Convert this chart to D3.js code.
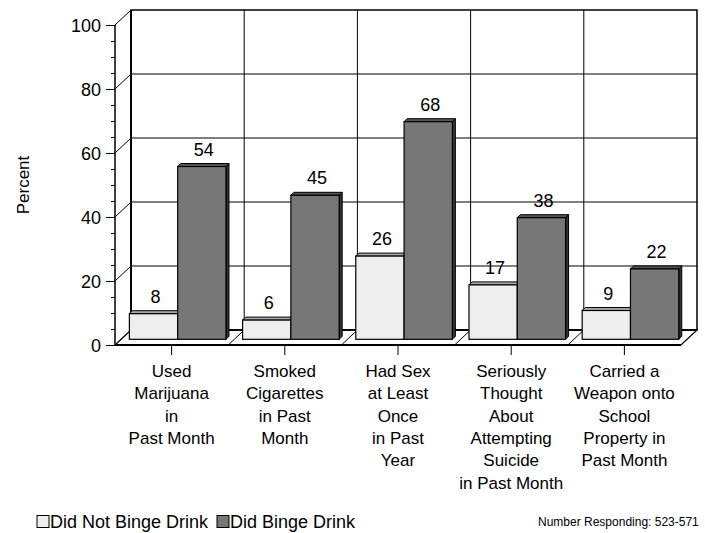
<!DOCTYPE html>
<html><head><meta charset="utf-8">
<script src="https://cdn.jsdelivr.net/npm/d3@7"></script>
<style>body{margin:0;background:#fff}svg{display:block;font-family:Arial,"Liberation Sans",sans-serif}</style>
</head><body><svg id="c" width="705" height="533"></svg>
<script>
const categories = [
  ["Used","Marijuana","in","Past Month"],
  ["Smoked","Cigarettes","in Past","Month"],
  ["Had Sex","at Least","Once","in Past","Year"],
  ["Seriously","Thought","About","Attempting","Suicide","in Past Month"],
  ["Carried a","Weapon onto","School","Property in","Past Month"]
];
const seriesNames = ["Did Not Binge Drink","Did Binge Drink"];
const notBinge = [8, 6, 26, 17, 9];
const binge = [54, 45, 68, 38, 22];
const yTicks = [0, 20, 40, 60, 80, 100];
const footnote = "Number Responding:  523-571";

const svg = d3.select("#c");
const ids = d3.range(categories.length);
const x = d3.scaleBand().domain(ids).range([115, 681]).padding(0);
const y = d3.scaleLinear().domain([0, 100]).range([345, 25]);
const DX = 16, DY = -15;            // wall depth
const BF = 0.38;                    // bar front depth fraction
const BDX = 3, BDY = -3;            // bar thickness
const xs = d3.scaleBand().domain([0, 1]).range([0, x.bandwidth()]).paddingInner(0).paddingOuter(0.172);
const fills = [{front:"#eeeeee", top:"#a8a8a8", side:"#8a8a8a"}, {front:"#777777", top:"#555555", side:"#333333"}];

const x0 = x.range()[0], x1 = x.range()[1];
const yB = v => y(v) + DY;

// back wall
svg.append("rect").attr("x", x0 + DX).attr("y", yB(100)).attr("width", x1 - x0).attr("height", y(0) - y(100))
  .attr("fill", "#fff").attr("stroke", "#000").attr("stroke-width", 1.5);
// back wall grid
svg.selectAll(".hg").data(yTicks.filter(v => v > 0 && v < 100)).enter().append("line")
  .attr("x1", x0 + DX).attr("x2", x1 + DX).attr("y1", d => yB(d)).attr("y2", d => yB(d))
  .attr("stroke", "#000").attr("stroke-width", 1);
svg.selectAll(".vg").data(ids.slice(1)).enter().append("line")
  .attr("x1", d => x(d) + DX).attr("x2", d => x(d) + DX).attr("y1", yB(100)).attr("y2", yB(0))
  .attr("stroke", "#000").attr("stroke-width", 1);
// left wall
svg.append("path").attr("d", `M${x0},${y(0)}L${x0},${y(100)}L${x0+DX},${yB(100)}L${x0+DX},${yB(0)}Z`)
  .attr("fill", "#fff").attr("stroke", "none");
svg.selectAll(".lg").data(yTicks).enter().append("line")
  .attr("x1", x0).attr("x2", x0 + DX).attr("y1", d => y(d)).attr("y2", d => yB(d))
  .attr("stroke", "#000").attr("stroke-width", 1);
svg.append("line").attr("x1", x0 + DX).attr("x2", x0 + DX).attr("y1", yB(100)).attr("y2", yB(0))
  .attr("stroke", "#000").attr("stroke-width", 2);
// floor
svg.append("path").attr("d", `M${x0},${y(0)}L${x1},${y(0)}L${x1+DX},${yB(0)}L${x0+DX},${yB(0)}Z`)
  .attr("fill", "#fff").attr("stroke", "#000").attr("stroke-width", 1.2);
svg.selectAll(".fg").data(ids.slice(1)).enter().append("line")
  .attr("x1", d => x(d)).attr("x2", d => x(d) + DX).attr("y1", y(0)).attr("y2", yB(0))
  .attr("stroke", "#000").attr("stroke-width", 1);
svg.append("line").attr("x1", x0 + DX).attr("x2", x1 + DX).attr("y1", yB(0)).attr("y2", yB(0))
  .attr("stroke", "#000").attr("stroke-width", 2);
svg.append("line").attr("x1", x0).attr("x2", x1).attr("y1", y(0)).attr("y2", y(0))
  .attr("stroke", "#000").attr("stroke-width", 2);

// bars
const series = [notBinge, binge];
ids.forEach(i => {
  series.forEach((vals, k) => {
    const v = vals[i];
    const bx = x(i) + DX * BF + xs(k), bw = xs.bandwidth();
    const by = y(v) + DY * BF, bb = y(0) + DY * BF;
    const f = fills[k];
    const g = svg.append("g");
    g.append("path").attr("d", `M${bx+bw},${by}L${bx+bw+BDX},${by+BDY}L${bx+bw+BDX},${bb+BDY}L${bx+bw},${bb}Z`)
      .attr("fill", f.side).attr("stroke", "#000").attr("stroke-width", 1).attr("stroke-linejoin", "round");
    g.append("path").attr("d", `M${bx},${by}L${bx+BDX},${by+BDY}L${bx+bw+BDX},${by+BDY}L${bx+bw},${by}Z`)
      .attr("fill", f.top).attr("stroke", "#000").attr("stroke-width", 1).attr("stroke-linejoin", "round");
    g.append("rect").attr("x", bx).attr("y", by).attr("width", bw).attr("height", bb - by)
      .attr("fill", f.front).attr("stroke", "#000").attr("stroke-width", 1.2);
    svg.append("text").attr("x", bx + bw / 2 + 2).attr("y", by - 11).attr("text-anchor", "middle")
      .attr("font-size", 18).attr("fill", "#000").text(v);
  });
});

// front axis
svg.append("line").attr("x1", x0).attr("x2", x0).attr("y1", y(0)).attr("y2", y(100))
  .attr("stroke", "#000").attr("stroke-width", 1.5);
const yAxis = d3.axisLeft(y).tickValues(d3.range(0, 101, 5)).tickSize(4).tickFormat("");
const ga = svg.append("g").attr("transform", `translate(${x0},0)`).call(yAxis);
ga.select(".domain").remove();
ga.selectAll(".tick line").attr("stroke", "#000").attr("stroke-width", 1)
  .attr("x2", d => yTicks.includes(d) ? -9 : -4);
svg.selectAll(".yl").data(yTicks).enter().append("text")
  .attr("x", 101).attr("y", d => y(d) + 6.5).attr("text-anchor", "end")
  .attr("font-size", 18).text(d => d);

// category ticks and labels
svg.selectAll(".ct").data(ids).enter().append("line")
  .attr("x1", d => x(d) + x.bandwidth() / 2).attr("x2", d => x(d) + x.bandwidth() / 2)
  .attr("y1", y(0)).attr("y2", y(0) + 10).attr("stroke", "#000").attr("stroke-width", 1);
ids.forEach(i => {
  const t = svg.append("text").attr("text-anchor", "middle").attr("font-size", 17);
  categories[i].forEach((line, j) => {
    t.append("tspan").attr("x", x(i) + x.bandwidth() / 2).attr("y", 377 + j * 22.3).text(line);
  });
});

// y title
svg.append("text").attr("transform", "translate(29,185) rotate(-90)").attr("text-anchor", "middle")
  .attr("font-size", 17).text("Percent");

// legend
const lx = [37, 217];
seriesNames.forEach((n, k) => {
  svg.append("rect").attr("x", lx[k]).attr("y", 515.5).attr("width", 12).attr("height", 12)
    .attr("fill", fills[k].front).attr("stroke", "#000").attr("stroke-width", 1);
  svg.append("text").attr("x", lx[k] + 13).attr("y", 528).attr("font-size", 18).text(n);
});
svg.append("text").attr("x", 538).attr("y", 526).attr("font-size", 12).text(footnote);
</script></body></html>
